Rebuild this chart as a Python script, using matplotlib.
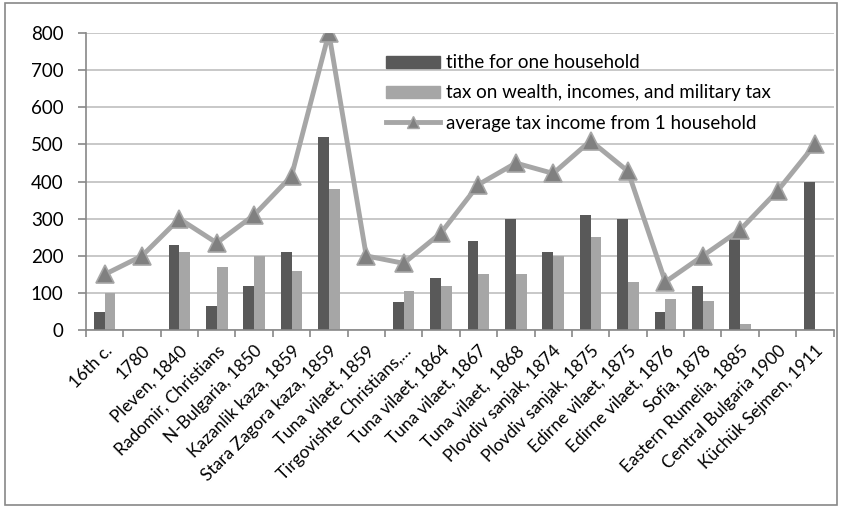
import numpy as np
import matplotlib.pyplot as plt
from matplotlib.lines import Line2D
from matplotlib.patches import Patch

categories = ['16th c.', '1780', 'Pleven, 1840', 'Radomir, Christians', 'N-Bulgaria, 1850',
              'Kazanlik kaza, 1859', 'Stara Zagora kaza, 1859', 'Tuna vilaet, 1859',
              'Tirgovishte Christians,...', 'Tuna vilaet, 1864', 'Tuna vilaet, 1867',
              'Tuna vilaet,  1868', 'Plovdiv sanjak, 1874', 'Plovdiv sanjak, 1875',
              'Edirne vilaet, 1875', 'Edirne vilaet, 1876', 'Sofia, 1878',
              'Eastern Rumelia, 1885', 'Central Bulgaria 1900', 'Küchük Sejmen, 1911']
tithe = [50, 0, 230, 65, 120, 210, 520, 0, 75, 140, 240, 300, 210, 310, 300, 50, 120, 245, 0, 400]
wealth = [100, 0, 210, 170, 200, 160, 380, 0, 105, 120, 150, 150, 200, 250, 130, 83, 78, 18, 0, 0]
average = [150, 200, 300, 235, 310, 415, 800, 200, 180, 262, 392, 450, 422, 510, 428, 130, 200, 270, 375, 500]

plt.rcParams['font.family'] = ['Lato', 'DejaVu Sans']

fig = plt.figure(figsize=(8.42, 5.08), dpi=100)
ax = fig.add_axes([0.102, 0.35, 0.888, 0.585])

x = np.arange(len(categories))
w = 0.29
ax.bar(x - w / 2, tithe, w, color='#595959', zorder=2)
ax.bar(x + w / 2, wealth, w, color='#a6a6a6', zorder=2)
ax.plot(x, average, color='#a6a6a6', lw=3.5, marker='^', ms=13,
        mfc='#808080', mec='#a6a6a6', mew=1.2, zorder=3)

ax.set_xlim(-0.5, len(categories) - 0.5)
ax.set_ylim(0, 800)
ax.set_yticks(range(0, 801, 100))
ax.yaxis.grid(True, color='#bfbfbf', lw=1.2, zorder=0)
ax.set_axisbelow(True)
for s in ['top', 'right']:
    ax.spines[s].set_visible(False)
for s in ['left', 'bottom']:
    ax.spines[s].set_color('#888888')
    ax.spines[s].set_linewidth(1.2)

# category labels centred in each slot, tick marks on the slot borders
ax.set_xticks(x)
ax.set_xticklabels(categories, rotation=45, ha='right', rotation_mode='anchor', fontsize=12.5)
ax.set_xticks(np.arange(-0.5, len(categories)), minor=True)
ax.tick_params(axis='x', which='major', length=0, pad=9)
ax.tick_params(axis='x', which='minor', length=5, color='#888888', width=1.2)
ax.tick_params(axis='y', length=6, color='#888888', width=1.2, labelsize=13.5, pad=10)

handles = [Patch(color='#595959'), Patch(color='#a6a6a6'),
           Line2D([], [], color='#a6a6a6', lw=3.5, marker='^', ms=8, mfc='#808080', mec='#a6a6a6')]
labels = ['tithe for one household', 'tax on wealth, incomes, and military tax',
          'average tax income from 1 household']
ax.legend(handles, labels, loc='upper left', bbox_to_anchor=(0.379, 0.985), frameon=False,
          fontsize=13.5, handlelength=2.85, handleheight=0.6, labelspacing=0.7, handletextpad=0.35)

fig.patches.append(plt.Rectangle((0.006, 0.006), 0.988, 0.988, transform=fig.transFigure,
                                 fill=False, edgecolor='#888888', lw=1.2))

fig.savefig('out.png', dpi=100)
